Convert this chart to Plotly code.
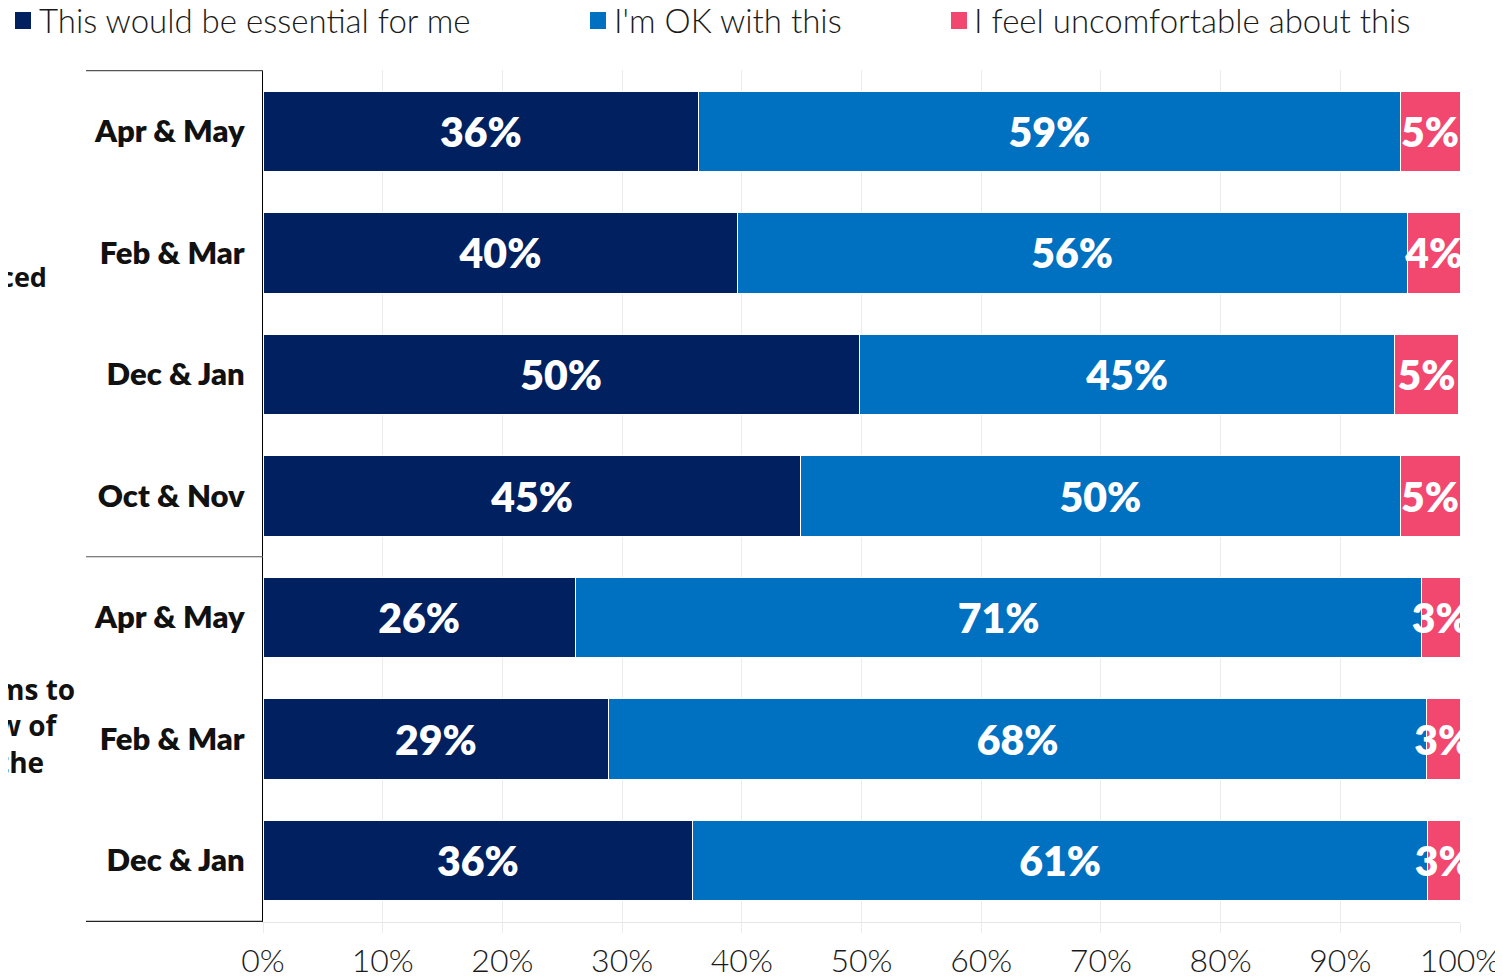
import plotly.graph_objects as go

# Data
row_ids = ["g1_apr_may", "g1_feb_mar", "g1_dec_jan", "g1_oct_nov",
           "g2_apr_may", "g2_feb_mar", "g2_dec_jan"]
row_labels = ["Apr & May", "Feb & Mar", "Dec & Jan", "Oct & Nov",
              "Apr & May", "Feb & Mar", "Dec & Jan"]
essential = [36.4, 39.6, 49.8, 44.9, 26.1, 28.9, 35.9]
ok_with = [58.6, 56.0, 44.7, 50.1, 70.7, 68.3, 61.4]
uncomfortable = [5.0, 4.4, 5.4, 5.0, 3.2, 2.8, 2.7]
series_names = ["This would be essential for me", "I'm OK with this",
                "I feel uncomfortable about this"]
x_ticks = [0, 10, 20, 30, 40, 50, 60, 70, 80, 90, 100]

colors = ["#002060", "#0070C0", "#F2476F"]

# plot area in page pixels (left, top, width, height)
PL, PT, PW, PH = 263, 70, 1197, 852


def px_x(p):
    return (p - PL) / PW


def px_y(p):
    return (PT + PH - p) / PH


fig = go.Figure()

for i, (name, vals) in enumerate(zip(series_names, [essential, ok_with, uncomfortable])):
    fig.add_trace(go.Bar(
        x=vals,
        y=row_ids,
        orientation="h",
        name=name,
        marker=dict(color=colors[i], line=dict(color="white", width=1)),
        text=[f"{round(v)}%" for v in vals],
        textposition="inside",
        insidetextanchor="middle",
        constraintext="none",
        textangle=0,
        textfont=dict(family="Lato", size=41, color="white", weight=800),
        cliponaxis=True,
        showlegend=False,
    ))

# legend row at the top (square key + label)
legend_sq = [15, 590, 951]
legend_txt = [40, 615, 975]
for name, col, sq, tx in zip(series_names, colors, legend_sq, legend_txt):
    fig.add_shape(type="rect", xref="paper", yref="paper",
                  x0=px_x(sq), x1=px_x(sq + 16), y0=px_y(29), y1=px_y(12),
                  fillcolor=col, line=dict(width=0))
    fig.add_annotation(text=name, xref="paper", yref="paper",
                       x=px_x(tx - 2), y=px_y(20), xanchor="left", yanchor="middle",
                       showarrow=False, borderpad=0,
                       font=dict(family="Lato", size=33, color="#1a1a1a", weight=300))

# divider lines on the left of the category labels
for yv, col in [(-0.5, "#555555"), (3.5, "#555555"), (6.5, "#222222")]:
    fig.add_shape(type="line", xref="paper", yref="y",
                  x0=px_x(86), x1=0, y0=yv, y1=yv,
                  line=dict(color=col, width=1.2))

# group labels (cut off at the left edge of the picture)
fig.add_annotation(text="ced", xref="paper", yref="y", x=px_x(-2), y=1.19,
                   xanchor="left", yanchor="middle", showarrow=False, align="left",
                   font=dict(family="Open Sans", size=27, color="#111111", weight=700))
fig.add_annotation(text="ms to<br>w of<br>the", xref="paper", yref="y", x=px_x(-5), y=4.89,
                   xanchor="left", yanchor="middle", showarrow=False, align="left",
                   font=dict(family="Open Sans", size=28, color="#111111", weight=700))

fig.update_layout(
    width=1503, height=977,
    margin=dict(l=255, r=51, t=62, b=63),
    paper_bgcolor="white",
    plot_bgcolor="white",
    barmode="stack",
    bargap=0.34,
    showlegend=False,
    xaxis=dict(
        range=[0, 100],
        tickvals=x_ticks,
        ticktext=[f"{t}%" for t in x_ticks],
        showgrid=True, gridcolor="#ececec", gridwidth=1,
        showline=True, linecolor="#e6e6e6", linewidth=1,
        ticks="outside", ticklen=10, tickcolor="#ececec",
        ticklabelstandoff=1,
        tickfont=dict(family="Lato", size=32, color="#1a1a1a", weight=300),
        zeroline=False,
        automargin=False,
    ),
    yaxis=dict(
        type="category",
        categoryorder="array", categoryarray=row_ids,
        tickvals=row_ids, ticktext=row_labels,
        autorange="reversed",
        showline=True, linecolor="black", linewidth=1.2,
        showgrid=False,
        ticks="", ticklabelstandoff=11,
        tickfont=dict(family="Lato", size=31, color="#111111", weight=800),
        automargin=False,
    ),
)

fig.write_html("out.html")
